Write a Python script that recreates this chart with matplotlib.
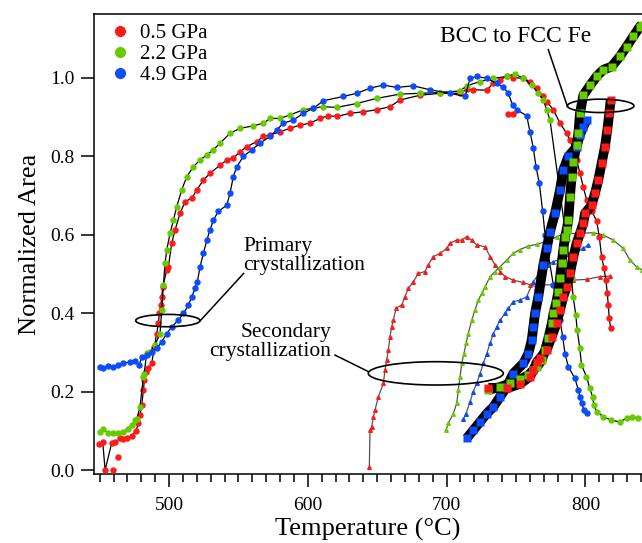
import numpy as np
import matplotlib
matplotlib.use("Agg")
import matplotlib.pyplot as plt
from matplotlib.patches import Ellipse
from matplotlib.lines import Line2D

plt.rcParams['font.family'] = ['Liberation Serif', 'DejaVu Serif']

RED = '#ff1a1a'
GREEN = '#66cc00'
BLUE = '#0a4cff'

# ---- primary crystallization / amorphous curves (T [C], normalized area) ----
red_T = [449.8, 452.2, 453.9, 458.7, 461.1, 464.7, 467.1, 469.5, 473.1, 476.2, 477.9, 479.1, 480.3,
         481.5, 482.2, 483.4, 485.1, 487.5, 489.4, 491.1, 492.3, 493.0, 494.0, 494.7, 495.5, 498.3,
         499.5, 501.9, 504.3, 507.9, 511.5, 516.4, 520.0, 524.7, 529.5, 536.7, 541.6, 546.3, 551.2,
         556.0, 563.2, 568.0, 572.8, 580.0, 587.2, 594.4, 601.6, 608.8, 614.8, 620.8, 630.4, 640.0,
         649.6, 659.2, 666.4, 680.8, 695.2, 709.7, 714.5, 719.2, 728.9, 733.6, 738.5, 743.3, 748.0,
         755.3, 760.0, 765.0, 769.7, 772.1, 776.9, 781.7, 786.5, 788.9, 791.3, 793.7, 796.1, 798.5,
         800.9, 804.5, 808.1, 810.0, 811.7, 813.4, 814.8, 815.8, 816.5, 817.2, 818.2]
red_A = [0.066, 0.071, 0.0, 0.070, 0.071, 0.081, 0.078, 0.081, 0.087, 0.100, 0.119, 0.140, 0.166,
         0.204, 0.229, 0.251, 0.259, 0.272, 0.314, 0.348, 0.374, 0.400, 0.420, 0.442, 0.467, 0.510,
         0.518, 0.578, 0.612, 0.654, 0.684, 0.693, 0.714, 0.739, 0.756, 0.777, 0.790, 0.795, 0.811,
         0.824, 0.837, 0.850, 0.854, 0.862, 0.871, 0.879, 0.884, 0.896, 0.903, 0.901, 0.909, 0.913,
         0.918, 0.926, 0.943, 0.955, 0.960, 0.960, 0.970, 0.969, 0.968, 0.985, 0.995, 1.003, 1.000,
         0.998, 0.990, 0.973, 0.952, 0.939, 0.918, 0.884, 0.858, 0.841, 0.816, 0.790, 0.756, 0.722,
         0.688, 0.660, 0.635, 0.595, 0.544, 0.514, 0.484, 0.450, 0.420, 0.387, 0.361]
red_out_T = [459.4, 463.5, 744.5, 748.0]
red_out_A = [0.0, 0.033, 0.907, 0.907]

green_T = [450.3, 452.7, 456.3, 459.9, 463.5, 467.1, 470.7, 473.1, 475.5, 476.7, 479.0, 481.5, 482.0,
           483.9, 486.0, 490.0, 493.5, 494.7, 495.9, 497.1, 498.3, 500.7, 503.1, 505.5, 509.1, 512.8,
           517.5, 522.3, 527.2, 531.9, 536.7, 543.9, 551.2, 560.7, 568.0, 572.8, 580.0, 587.2, 596.8,
           604.0, 611.0, 620.8, 635.2, 649.6, 666.4, 680.8, 695.2, 709.7, 714.5, 724.1, 733.7, 743.3,
           749.3, 755.3, 761.3, 766.1, 769.7, 772.1, 774.5, 786.4, 790.0, 791.2, 793.1, 794.1, 796.0,
           797.2, 800.8, 803.2, 805.2, 806.1, 808.1, 812.9, 818.8, 824.9, 829.7, 833.4, 838.2]
green_A = [0.098, 0.104, 0.095, 0.094, 0.094, 0.098, 0.106, 0.115, 0.127, 0.130, 0.160, 0.238, 0.246,
           0.298, 0.300, 0.320, 0.348, 0.408, 0.472, 0.527, 0.561, 0.603, 0.637, 0.671, 0.714, 0.748,
           0.773, 0.790, 0.803, 0.816, 0.833, 0.858, 0.871, 0.877, 0.884, 0.896, 0.896, 0.905, 0.918,
           0.922, 0.926, 0.924, 0.934, 0.947, 0.958, 0.960, 0.962, 0.966, 0.979, 0.990, 0.998, 1.003,
           1.009, 0.998, 0.981, 0.960, 0.943, 0.918, 0.892, 0.586, 0.489, 0.442, 0.395, 0.357, 0.310,
           0.268, 0.238, 0.208, 0.187, 0.166, 0.149, 0.136, 0.127, 0.123, 0.132, 0.136, 0.132]

blue_T = [450.3, 452.7, 456.3, 459.9, 463.5, 467.1, 471.9, 475.5, 478.6, 480.3, 483.9, 487.5, 491.1,
          494.7, 498.3, 501.9, 506.7, 510.3, 513.9, 516.4, 518.7, 520.4, 522.3, 524.7, 527.2, 529.5,
          531.9, 535.5, 541.6, 543.9, 546.3, 548.8, 553.5, 559.6, 565.6, 572.8, 577.6, 582.4, 589.6,
          596.8, 604.0, 611.2, 625.6, 635.2, 644.8, 654.4, 664.0, 676.0, 688.0, 702.4, 713.3, 716.9,
          721.7, 728.9, 736.1, 740.9, 744.5, 747.5, 750.5, 757.7, 760.1, 762.5, 764.4, 766.8, 769.2,
          770.9, 776.9, 781.7, 783.6, 785.3, 787.7, 792.5, 794.9, 796.1, 797.3, 799.0, 800.9]
blue_A = [0.263, 0.259, 0.265, 0.262, 0.268, 0.272, 0.276, 0.278, 0.268, 0.289, 0.293, 0.302, 0.310,
          0.327, 0.348, 0.365, 0.382, 0.399, 0.420, 0.442, 0.463, 0.480, 0.518, 0.552, 0.586, 0.612,
          0.637, 0.659, 0.675, 0.705, 0.748, 0.773, 0.799, 0.816, 0.833, 0.850, 0.867, 0.884, 0.892,
          0.909, 0.922, 0.941, 0.952, 0.960, 0.973, 0.981, 0.975, 0.979, 0.969, 0.960, 0.952, 0.998,
          1.003, 0.998, 0.985, 0.975, 0.960, 0.930, 0.918, 0.903, 0.862, 0.820, 0.773, 0.731, 0.660,
          0.600, 0.472, 0.382, 0.340, 0.297, 0.263, 0.234, 0.204, 0.187, 0.170, 0.153, 0.145]

# ---- secondary crystallization ----
red2_T = [644.3, 644.8, 646.0, 647.2, 648.4, 650.8, 654.4, 655.6, 656.8, 658.0, 659.2, 660.4, 661.6,
          663.5, 667.7, 670.0, 672.4, 676.0, 679.6, 684.4, 686.8, 690.4, 695.2, 700.0, 702.4, 707.2,
          710.8, 714.4, 718.0, 721.6, 727.7, 731.3, 734.9, 738.5, 742.1, 748.0, 755.3, 760.1, 765.0,
          767.3, 776.9, 784.1, 791.3, 800.9, 810.5, 817.7]
red2_A = [0.008, 0.102, 0.110, 0.136, 0.153, 0.187, 0.221, 0.255, 0.280, 0.306, 0.340, 0.365, 0.382,
          0.412, 0.421, 0.442, 0.463, 0.480, 0.501, 0.506, 0.523, 0.544, 0.552, 0.565, 0.578, 0.586,
          0.586, 0.595, 0.586, 0.574, 0.569, 0.544, 0.523, 0.506, 0.493, 0.484, 0.478, 0.472, 0.467,
          0.472, 0.472, 0.480, 0.484, 0.486, 0.493, 0.494]

green2_T = [699.6, 701.2, 704.8, 707.3, 708.4, 709.7, 710.9, 712.5, 714.0, 715.6, 718.1, 720.5, 722.8,
            725.3, 727.7, 731.3, 734.9, 738.5, 743.3, 748.0, 752.9, 758.9, 765.0, 774.5, 779.3, 786.5,
            796.1, 805.7, 812.9, 820.1, 827.3, 832.1, 836.9, 840.7]
green2_A = [0.102, 0.119, 0.144, 0.170, 0.204, 0.238, 0.272, 0.297, 0.323, 0.348, 0.382, 0.408, 0.433,
            0.450, 0.467, 0.493, 0.506, 0.518, 0.535, 0.552, 0.562, 0.571, 0.575, 0.586, 0.595, 0.603,
            0.603, 0.605, 0.599, 0.586, 0.565, 0.535, 0.518, 0.510]

blue2_T = [712.0, 714.0, 716.9, 719.2, 721.7, 724.1, 726.5, 728.9, 731.3, 733.7, 736.1, 738.5, 742.1,
           744.5, 748.0, 752.9, 757.7, 762.5, 767.3, 772.1, 776.9, 784.1, 791.3, 798.5, 802.1]
blue2_A = [0.129, 0.144, 0.174, 0.200, 0.221, 0.246, 0.272, 0.297, 0.323, 0.348, 0.365, 0.382, 0.399,
           0.412, 0.429, 0.433, 0.442, 0.480, 0.505, 0.523, 0.531, 0.540, 0.552, 0.565, 0.574]

# ---- BCC -> FCC Fe ----
blue3_T = [714.5, 719.3, 724.1, 728.9, 733.7, 738.5, 743.3, 748.0, 755.3, 758.9, 761.3, 762.5, 763.7,
           766.1, 769.7, 772.1, 774.5, 778.1, 781.7, 784.1, 787.7, 793.7, 796.1, 798.5, 800.9]
blue3_A = [0.081, 0.102, 0.123, 0.144, 0.161, 0.187, 0.212, 0.246, 0.272, 0.297, 0.331, 0.365, 0.399,
           0.442, 0.523, 0.565, 0.607, 0.654, 0.714, 0.765, 0.799, 0.824, 0.854, 0.875, 0.892]

green3_T = [730.0, 738.5, 745.7, 752.9, 758.9, 762.5, 765.0, 768.6, 771.0, 773.3, 775.8, 777.0, 778.9,
            780.5, 781.7, 782.9, 784.1, 785.3, 786.5, 787.7, 788.9, 790.1, 791.3, 793.7, 794.9, 796.1,
            798.5, 803.3, 808.1, 812.9, 818.9, 824.9, 829.7, 834.5, 839.3, 840.5]
green3_A = [0.204, 0.212, 0.221, 0.231, 0.242, 0.255, 0.263, 0.280, 0.306, 0.336, 0.374, 0.399, 0.425,
            0.455, 0.489, 0.527, 0.561, 0.595, 0.612, 0.637, 0.697, 0.748, 0.786, 0.828, 0.858, 0.909,
            0.955, 0.980, 1.003, 1.020, 1.028, 1.054, 1.079, 1.105, 1.130, 1.134]

red3_T = [730.0, 743.3, 752.9, 760.1, 762.5, 765.0, 767.3, 772.1, 775.7, 779.3, 781.7, 784.1, 786.5,
          788.9, 791.3, 793.7, 796.1, 798.5, 799.7, 804.5, 806.9, 809.3, 811.7, 814.1, 815.8, 817.2,
          818.2]
red3_A = [0.210, 0.208, 0.220, 0.238, 0.255, 0.275, 0.285, 0.306, 0.340, 0.374, 0.408, 0.442, 0.467,
          0.501, 0.544, 0.578, 0.603, 0.629, 0.654, 0.675, 0.705, 0.739, 0.782, 0.824, 0.867, 0.909,
          0.943]

fig = plt.figure(figsize=(6.42, 5.43), dpi=100)
ax = fig.add_axes([0.146, 0.127, 0.854, 0.8472])

# primary (black line, coloured dots)
for T, A, c in [(red_T, red_A, RED), (green_T, green_A, GREEN), (blue_T, blue_A, BLUE)]:
    ax.plot(T, A, '-', color='k', lw=0.9, marker='o', ms=3.6, mfc=c, mec=c, zorder=3)
ax.plot(red_out_T, red_out_A, 'o', ms=3.6, color=RED, zorder=3)

# secondary (thin grey line, small triangles)
for T, A, c in [(red2_T, red2_A, RED), (green2_T, green2_A, GREEN), (blue2_T, blue2_A, BLUE)]:
    ax.plot(T, A, '-', color='#555555', lw=0.9, marker='^', ms=2.6, mfc=c, mec=c, zorder=2)

# BCC -> FCC (thick black line, coloured squares)
for T, A, c in [(blue3_T, blue3_A, BLUE), (green3_T, green3_A, GREEN), (red3_T, red3_A, RED)]:
    ax.plot(T, A, '-', color='k', lw=7, solid_capstyle='butt', zorder=4)
    ax.plot(T, A, 's', ms=5.5, mfc=c, mec='none', zorder=5)

# annotations
ax.add_patch(Ellipse((499.1, 0.381), 46.3, 0.0314, fill=False, lw=1.2, ec='k', zorder=6))
ax.plot([522.3, 553.7], [0.38, 0.501], color='k', lw=1.1, zorder=6)
ax.text(553.3, 0.545, 'Primary\ncrystallization', fontsize=15.5, ha='left', va='center',
        linespacing=1.02)

ax.add_patch(Ellipse((692.2, 0.2465), 97.3, 0.0594, fill=False, lw=1.2, ec='k', zorder=6))
ax.plot([619.6, 643.6], [0.293, 0.251], color='k', lw=1.1, zorder=6)
ax.text(617.0, 0.326, 'Secondary\ncrystallization', fontsize=15.5, ha='right', va='center',
        multialignment='right', linespacing=1.02)

ax.add_patch(Ellipse((811.0, 0.928), 48.0, 0.034, fill=False, lw=1.2, ec='k', zorder=6))
ax.plot([773.3, 787.1], [1.071, 0.926], color='k', lw=1.1, zorder=6)
ax.text(750.0, 1.104, 'BCC to FCC Fe', fontsize=17, ha='center', va='center')

ax.set_xlim(445.7, 840.8)
ax.set_ylim(-0.010, 1.162)
ax.set_xticks([500, 600, 700, 800])
ax.set_xticks(np.arange(450, 841, 10), minor=True)
ax.set_yticks([0.0, 0.2, 0.4, 0.6, 0.8, 1.0])
ax.set_yticklabels(['0.0', '0.2', '0.4', '0.6', '0.8', '1.0'])
ax.tick_params(axis='both', which='major', direction='out', length=9.5, width=1.1, labelsize=14)
ax.tick_params(axis='x', which='major', pad=7)
ax.tick_params(axis='y', which='major', pad=4)
ax.tick_params(axis='x', which='minor', direction='out', length=6, width=1.1)
ax.spines['right'].set_visible(False)
for s in ['left', 'bottom', 'top']:
    ax.spines[s].set_linewidth(1.1)

ax.set_xlabel('Temperature (°C)', fontsize=19, labelpad=3)
ax.set_ylabel('Normalized Area', fontsize=19, labelpad=7)

handles = [Line2D([], [], ls='none', marker='o', ms=7, color=c) for c in (RED, GREEN, BLUE)]
ax.legend(handles, ['0.5 GPa', '2.2 GPa', '4.9 GPa'], loc='upper left',
          bbox_to_anchor=(0.033, 0.980), frameon=False, fontsize=15, handlelength=0.8,
          handletextpad=0.55, labelspacing=0.07, borderpad=0, borderaxespad=0)

fig.savefig('out.png', dpi=100)
